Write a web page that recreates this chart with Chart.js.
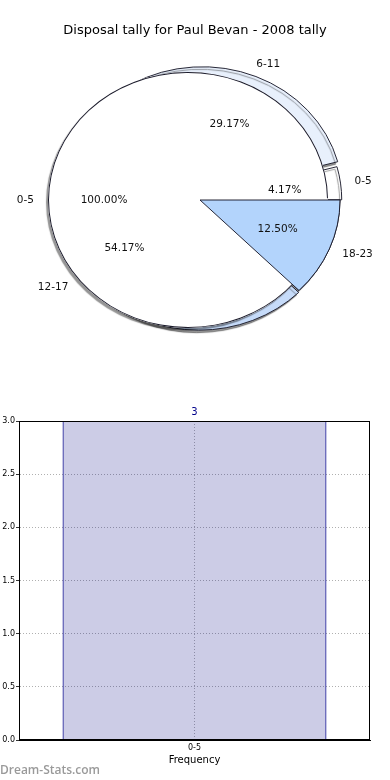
<!DOCTYPE html>
<html><head><meta charset="utf-8">
<script src="https://cdn.jsdelivr.net/npm/chart.js@4.4.1/dist/chart.umd.min.js"></script>
<style>
html,body{margin:0;padding:0;background:#fff;width:390px;height:780px;overflow:hidden;font-family:"DejaVu Sans",sans-serif;}
.layer{position:absolute;left:0;top:0;width:390px;height:400px;}
#barBox{position:absolute;left:0;top:390px;width:390px;height:390px;}
#title{position:absolute;left:0;top:22px;width:390px;text-align:center;font-size:13px;line-height:16px;color:#000;}
#wm{position:absolute;left:0;top:762px;font:600 12px "Open Sans",sans-serif;line-height:16px;color:#9a9a9a;}
</style></head><body>
<div id="barBox"><canvas id="bar"></canvas></div>
<div class="layer"><canvas id="pieMain"></canvas></div>
<div class="layer"><canvas id="pieAll"></canvas></div>
<div class="layer"><canvas id="pieAllCover"></canvas></div>
<div class="layer"><canvas id="pieAllEdge"></canvas></div>
<div class="layer"><canvas id="pieTop"></canvas></div>
<div id="title">Disposal tally for Paul Bevan - 2008 tally</div>
<div id="wm">Dream-Stats.com</div>
<script>
// ---- data ----
const pieCategories = ['0-5', '6-11', '12-17', '18-23'];
const pieCounts = [1, 7, 13, 3];
const totalCategories = ['0-5'];
const totalCounts = [3];
const barCategories = ['0-5'];
const barValues = [3];

// ---- style ----
Chart.defaults.font.family = '"DejaVu Sans", sans-serif';
const R = 140, SY = 0.914;
const EDGE = '#1c1c2c';
const pieColors = ['#ffffff', '#e8f0fc', '#c6dbf9', '#b3d4fc'];
const pieOffsets = [4, 24, 6, 0];
const pieLabelShiftX = [0, -5, -7, 0];
const totalShift = 12;                 // px the 100% disc is pushed left
const totalOffset = totalShift * 4;    // Chart.js offset -> translation offset/4
const totalRadius = R - totalShift;    // full-circle offset also grows radius by offset/4

const rev = a => a.slice().reverse();

function squash(shadow) {
  return {
    id: 'squash',
    beforeDatasetsDraw(chart) {
      const ctx = chart.ctx, a = chart.chartArea;
      const cx = (a.left + a.right) / 2, cy = (a.top + a.bottom) / 2;
      ctx.save();
      ctx.translate(cx, cy); ctx.scale(1, SY); ctx.translate(-cx, -cy);
      if (shadow) {
        ctx.shadowColor = 'rgba(0,0,0,0.42)';
        ctx.shadowOffsetX = -2; ctx.shadowOffsetY = 2.5; ctx.shadowBlur = 1;
      }
    },
    afterDatasetsDraw(chart) { chart.ctx.restore(); }
  };
}

function pieOptions(radius, rotation) {
  return {
    responsive: true, maintainAspectRatio: false, animation: false, events: [],
    rotation: rotation === undefined ? 90 : rotation, radius: radius,
    layout: { padding: { left: 10, right: 0, top: 0, bottom: 0 } },
    plugins: { legend: { display: false }, tooltip: { enabled: false } }
  };
}

const mainChart = new Chart(document.getElementById('pieMain'), {
  type: 'pie',
  data: { labels: rev(pieCategories), datasets: [{
    data: rev(pieCounts), backgroundColor: rev(pieColors), borderColor: EDGE,
    borderWidth: 1, offset: rev(pieOffsets), clip: false
  }]},
  options: pieOptions(R),
  plugins: [squash(true)]
});

// 100% disc (with shadow)
const allChart = new Chart(document.getElementById('pieAll'), {
  type: 'pie',
  data: { labels: totalCategories, datasets: [{
    data: totalCounts, backgroundColor: '#ffffff', borderWidth: 0, offset: totalOffset, clip: false
  }]},
  options: pieOptions(totalRadius),
  plugins: [squash(true)]
});

// same disc, seam on the other side, hides the seam of the first one
new Chart(document.getElementById('pieAllCover'), {
  type: 'pie',
  data: { labels: totalCategories, datasets: [{
    data: totalCounts, backgroundColor: '#ffffff', borderWidth: 0, offset: -totalOffset, clip: false
  }]},
  options: pieOptions(R + totalShift, 270),
  plugins: [squash(false)]
});

const edgeOpts = pieOptions(totalRadius);
edgeOpts.cutout = (100 * (totalRadius - 1) / totalRadius) + '%';
new Chart(document.getElementById('pieAllEdge'), {
  type: 'doughnut',
  data: { labels: totalCategories, datasets: [{
    data: totalCounts, backgroundColor: EDGE, borderWidth: 0, offset: totalOffset, clip: false
  }]},
  options: edgeOpts,
  plugins: [squash(false)]
});

function drawPieLabels(ctx, src, names, values, shifts) {
  const meta = src.getDatasetMeta(0);
  const a = src.chartArea, cy = (a.top + a.bottom) / 2;
  const total = values.reduce((s, v) => s + v, 0);
  meta.data.forEach((arc, i) => {
    const p = arc.getProps(['x', 'y', 'startAngle', 'endAngle', 'outerRadius', 'circumference'], true);
    const off = (arc.options.offset || 0) / 4;
    const fix = 1 - Math.sin(Math.min(Math.PI, p.circumference || 0));
    const r = p.outerRadius + off * fix;
    const mid = (p.startAngle + p.endAngle) / 2;
    const c = Math.cos(mid), s = Math.sin(mid);
    const ox = p.x + c * off + (shifts ? shifts[i] : 0), oy = cy + (p.y - cy + s * off) * SY;
    ctx.save();
    ctx.fillStyle = '#111';
    ctx.font = '10.5px "DejaVu Sans"';
    ctx.textBaseline = 'middle';
    ctx.textAlign = c > 0 ? 'left' : 'right';
    ctx.fillText(names[i], ox + c * r * 1.1, oy + s * r * 1.1 * SY);
    ctx.textAlign = 'center';
    ctx.fillText((values[i] / total * 100).toFixed(2) + '%', ox + c * r * 0.6, oy + s * r * 0.6 * SY);
    ctx.restore();
  });
}

const topIdx = pieCategories.length - 1; // 18-23 slice drawn on top
new Chart(document.getElementById('pieTop'), {
  type: 'pie',
  data: { labels: [pieCategories[topIdx], ''], datasets: [{
    data: [pieCounts[topIdx], pieCounts.reduce((s, v) => s + v, 0) - pieCounts[topIdx]],
    backgroundColor: [pieColors[topIdx], 'rgba(0,0,0,0)'],
    borderColor: [EDGE, 'rgba(0,0,0,0)'], borderWidth: [1, 0], clip: false
  }]},
  options: pieOptions(R),
  plugins: [squash(false), {
    id: 'labels',
    afterDraw(chart) {
      drawPieLabels(chart.ctx, mainChart, rev(pieCategories), rev(pieCounts), rev(pieLabelShiftX));
      drawPieLabels(chart.ctx, allChart, totalCategories, totalCounts, null);
    }
  }]
});

// ---- bar chart ----
const framePlugin = {
  id: 'frame',
  afterDatasetsDraw(chart) {
    const a = chart.chartArea, ctx = chart.ctx;
    ctx.save();
    ctx.strokeStyle = '#000'; ctx.lineWidth = 1;
    ctx.strokeRect(Math.round(a.left) + 0.5, Math.round(a.top) + 0.5,
      Math.round(a.right - a.left) - 1, Math.round(a.bottom - a.top) - 1);
    const meta = chart.getDatasetMeta(0);
    ctx.fillStyle = '#00008b';
    ctx.font = '10px "DejaVu Sans"';
    ctx.textAlign = 'center'; ctx.textBaseline = 'middle';
    meta.data.forEach((b, i) => {
      ctx.fillText(String(barValues[i]), b.x, b.y - 9);
    });
    ctx.restore();
  }
};

new Chart(document.getElementById('bar'), {
  type: 'bar',
  data: { labels: barCategories, datasets: [{
    data: barValues, backgroundColor: 'rgba(0,0,128,0.2)', borderColor: '#00008b',
    borderWidth: 1, categoryPercentage: 1, barPercentage: 0.752
  }]},
  options: {
    responsive: true, maintainAspectRatio: false, animation: false, events: [],
    layout: { padding: { left: 0, right: 20, top: 31, bottom: 0 } },
    plugins: { legend: { display: false }, tooltip: { enabled: false } },
    scales: {
      x: {
        grid: { offset: false, color: '#b0b0b0', drawTicks: false },
        border: { display: true, color: '#000', dash: [1, 2] },
        ticks: { font: { size: 8 }, color: '#000', padding: 3 },
        title: { display: true, text: 'Frequency', font: { size: 10 }, color: '#000', padding: { top: 0, bottom: 14 } },
        afterFit(s) { s.height = 40; }
      },
      y: {
        min: 0, max: 3,
        ticks: { stepSize: 0.5, callback: v => Number(v).toFixed(1), font: { size: 8 }, color: '#000', padding: 1 },
        grid: { color: '#b0b0b0', tickLength: 3, tickColor: '#333' },
        border: { display: true, color: '#000', dash: [1, 2] },
        afterFit(s) { s.width = 19; }
      }
    }
  },
  plugins: [framePlugin]
});
</script>
</body></html>
